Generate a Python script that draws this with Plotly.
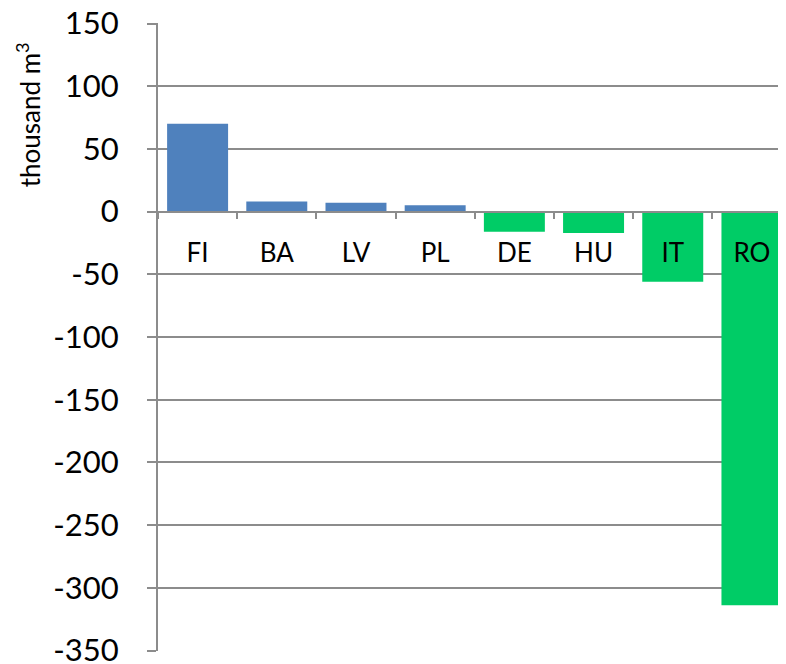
import plotly.graph_objects as go

categories = ["FI", "BA", "LV", "PL", "DE", "HU", "IT", "RO"]
values = [70, 8, 7, 5, -16, -17, -56, -314]
colors_pos = "#4F81BD"
colors_neg = "#00CC66"
y_ticks = [150, 100, 50, 0, -50, -100, -150, -200, -250, -300, -350]
y_ticktext = [str(v) for v in y_ticks]

bar_colors = [colors_pos if v > 0 else colors_neg for v in values]

FONT = "Lato"
GRID = "#8C8C8C"

fig = go.Figure(go.Bar(x=categories, y=values, marker=dict(color=bar_colors, line=dict(width=0)),
                       width=0.77))

ymin, ymax = -350.4, 150.4
zero_pos = (0 - ymin) / (ymax - ymin)

# page body has an 8px default margin; figure sized to fit inside the window
fig.update_layout(
    width=778, height=656,
    margin=dict(l=150, r=0, t=15, b=13, autoexpand=False),
    plot_bgcolor="white", paper_bgcolor="white",
    showlegend=False,
    font=dict(family=FONT, color="black"),
    xaxis=dict(
        type="category",
        range=[-0.5, 7.43],
        anchor="free", position=zero_pos,
        showline=True, linecolor=GRID, linewidth=2,
        ticks="outside", tickson="boundaries", ticklen=6, tickcolor=GRID, tickwidth=2,
        tickfont=dict(size=26, family=FONT),
        ticklabelstandoff=18,
        showgrid=False, zeroline=False, automargin=False,
    ),
    yaxis=dict(
        range=[ymin, ymax],
        tickvals=y_ticks, ticktext=y_ticktext,
        showgrid=True, gridcolor=GRID, gridwidth=2,
        zeroline=False,
        showline=True, linecolor=GRID, linewidth=2,
        ticks="outside", ticklen=9, tickcolor=GRID, tickwidth=2,
        tickfont=dict(size=31, family=FONT),
        ticklabelstandoff=22, automargin=False,
        ticklabeloverflow="allow",
    ),
    annotations=[dict(
        text="thousand m<sup>3</sup>", textangle=-90,
        xref="paper", yref="paper", x=-0.207, y=0.853,
        xanchor="center", yanchor="middle", showarrow=False,
        font=dict(size=26, family=FONT),
    )],
)

fig.write_html("out.html")
